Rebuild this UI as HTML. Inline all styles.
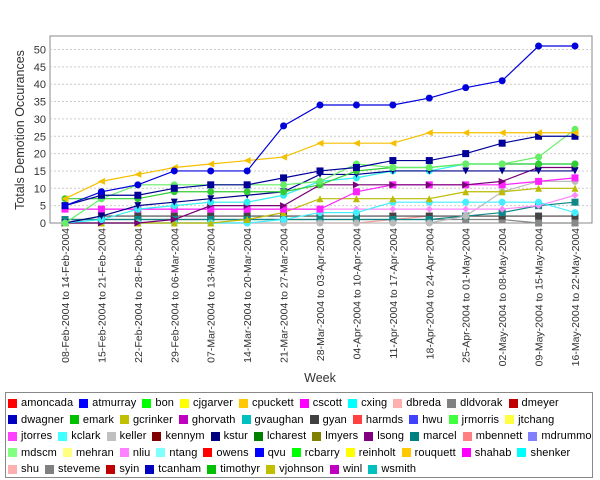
<!DOCTYPE html>
<html><head><meta charset="utf-8"><style>
body{margin:0;background:#fff;font-family:"Liberation Sans",sans-serif;}
#wrap{position:relative;width:600px;height:480px;overflow:hidden;}
#legend{position:absolute;left:5px;top:392px;width:588px;height:86px;border:1px solid #888;box-sizing:border-box;padding:2px 0 0 2px;font-size:11px;overflow:hidden;}
.row{white-space:nowrap;height:16.5px;display:flex;align-items:center;}
.li{display:inline-flex;align-items:center;margin-right:6px;letter-spacing:0.1px;}
.sw{width:9px;height:9px;margin-right:4px;display:inline-block;}
</style></head><body>
<div id="wrap">
<svg id="chart" width="600" height="390" style="position:absolute;left:0;top:0"></svg>
<div id="legend"></div>
</div>
<script>
const categories=["08-Feb-2004 to 14-Feb-2004","15-Feb-2004 to 21-Feb-2004","22-Feb-2004 to 28-Feb-2004","29-Feb-2004 to 06-Mar-2004","07-Mar-2004 to 13-Mar-2004","14-Mar-2004 to 20-Mar-2004","21-Mar-2004 to 27-Mar-2004","28-Mar-2004 to 03-Apr-2004","04-Apr-2004 to 10-Apr-2004","11-Apr-2004 to 17-Apr-2004","18-Apr-2004 to 24-Apr-2004","25-Apr-2004 to 01-May-2004","02-May-2004 to 08-May-2004","09-May-2004 to 15-May-2004","16-May-2004 to 22-May-2004"];
const yTicks=[0,5,10,15,20,25,30,35,40,45,50];
const seriesNames=["tcanham","cpuckett","dwagner","jrmorris","emark","kstur","shenker","lsong","shahab","vjohnson","kclark","nliu","keller","marcel","gyan","steveme","mbennett"];
const seriesColors=["#0000dd","#f5c000","#000099","#66ee66","#33cc33","#000088","#33eeee","#770077","#ff22ff","#bbbb00","#44eeff","#ff88ff","#bbbbbb","#118888","#444444","#888888","#ff9999"];
const seriesShapes=["circle","tri-left","square","circle","circle","tri-down","circle","tri-right","square","tri-up","circle","diamond","circle","square","square","square","diamond"];
const v0=[5,9,11,15,15,15,28,34,34,34,36,39,41,51,51];
const v1=[7,12,14,16,17,18,19,23,23,23,26,26,26,26,26];
const v2=[5,8,8,10,11,11,13,15,16,18,18,20,23,25,25];
const v3=[0,7,11,11,11,11,11,12,17,16,16,17,17,19,27];
const v4=[7,7,7,9,9,9,9,11,15,16,16,17,17,17,17];
const v5=[0,2,5,6,7,8,9,14,14,15,15,15,15,15,15];
const v6=[0,1,4,5,6,6,8,12,13,15,15,17,17,17,17];
const v7=[0,0,0,1,5,5,5,11,11,11,11,11,12,16,16];
const v8=[4,4,4,4,4,4,4,4,9,11,11,11,11,12,13];
const v9=[0,0,0,0,0,1,3,7,7,7,7,9,9,10,10];
const v10=[0,0,0,0,0,0,1,3,3,6,6,6,6,6,3];
const v11=[4,4,4,4,4,4,4,4,4,4,4,4,4,5,8];
const v12=[0,0,0,0,0,0,0,0,0,0,0,2,9,12,12];
const v13=[1,1,1,1,1,1,1,1,1,1,1,2,3,5,6];
const v14=[0,2,2,2,2,2,2,2,2,2,2,2,2,2,2];
const v15=[1,1,1,1,1,1,1,1,1,1,1,1,1,0,0];
const v16=[0,0,0,0,0,0,0,0,0,1,2,2,2,2,2];
const seriesValues=[v0,v1,v2,v3,v4,v5,v6,v7,v8,v9,v10,v11,v12,v13,v14,v15,v16];
const legendNames=["amoncada","atmurray","bon","cjgarver","cpuckett","cscott","cxing","dbreda","dldvorak","dmeyer","dwagner","emark","gcrinker","ghorvath","gvaughan","gyan","harmds","hwu","jrmorris","jtchang","jtorres","kclark","keller","kennym","kstur","lcharest","lmyers","lsong","marcel","mbennett","mdrummon","mdscm","mehran","nliu","ntang","owens","qvu","rcbarry","reinholt","rouquett","shahab","shenker","shu","steveme","syin","tcanham","timothyr","vjohnson","winl","wsmith"];
const legendColors=["#ff0000","#0000ff","#00ff00","#ffff00","#ffc800","#ff00ff","#00ffff","#ffafaf","#808080","#c00000","#0000c0","#00c000","#c0c000","#c000c0","#00c0c0","#404040","#ff4040","#4040ff","#40ff40","#ffff40","#ff40ff","#40ffff","#c0c0c0","#800000","#000080","#008000","#808000","#800080","#008080","#ff8080","#8080ff","#80ff80","#ffff80","#ff80ff","#80ffff","#ff0000","#0000ff","#00ff00","#ffff00","#ffc800","#ff00ff","#00ffff","#ffafaf","#808080","#c00000","#0000c0","#00c000","#c0c000","#c000c0","#00c0c0"];
const legendRowSizes=[10,10,11,11,8];

const NS="http://www.w3.org/2000/svg";
const svg=document.getElementById('chart');
const L=50,R=592,T=36,B=223,X0=65,X1=575,YMAX=50,Y50=49.5;
function xs(i){return X0+(X1-X0)*i/(categories.length-1);}
function ys(v){return B-(B-Y50)*v/YMAX;}
function mk(tag,attrs){const e=document.createElementNS(NS,tag);for(const k in attrs)e.setAttribute(k,attrs[k]);svg.appendChild(e);return e;}
let bg=mk('rect',{x:L,y:T,width:R-L,height:B-T,fill:'#fff',stroke:'#888'});


yTicks.forEach(t=>{
  const y=ys(t);
  if(t>0){let g=mk('line',{x1:L,x2:R,y1:y,y2:y,stroke:'#ccc','stroke-dasharray':'2,2'});
  
  }
  let tx=mk('text',{x:L-4,y:y+4,'text-anchor':'end','font-size':'11',fill:'#333'});tx.textContent=t;
  
  
});
categories.forEach((c,i)=>{
  const x=xs(i);
  let tx=mk('text',{x:0,y:0,'text-anchor':'end','font-size':'10.5',fill:'#333',transform:`translate(${x+4},${B+5}) rotate(-90)`});tx.textContent=c;
  
  
});
let yt=mk('text',{x:0,y:0,'text-anchor':'middle','font-size':'12.5',fill:'#333',transform:'translate(24,130) rotate(-90)'});yt.textContent='Totals Demotion Occurances';


let xt=mk('text',{x:320,y:382,'text-anchor':'middle','font-size':'12.5',fill:'#333'});xt.textContent='Week';


function marker(shape,x,y,c){
  const s=3.5;let e;
  if(shape==='circle')e=mk('circle',{cx:x,cy:y,r:s,fill:c});
  else if(shape==='square')e=mk('rect',{x:x-s,y:y-s,width:2*s,height:2*s,fill:c});
  else{let p;
    if(shape==='tri-left')p=[[x-s,y],[x+s,y-s],[x+s,y+s]];
    else if(shape==='tri-right')p=[[x+s,y],[x-s,y-s],[x-s,y+s]];
    else if(shape==='tri-down')p=[[x,y+s],[x-s,y-s],[x+s,y-s]];
    else if(shape==='tri-up')p=[[x,y-s],[x-s,y+s],[x+s,y+s]];
    else p=[[x,y-s],[x+s,y],[x,y+s],[x-s,y]];
    e=mk('polygon',{points:p.map(q=>q.join(',')).join(' '),fill:c});}
  return e;
}
for(let k=seriesValues.length-1;k>=0;k--){
  const vals=seriesValues[k],c=seriesColors[k];
  let pl=mk('polyline',{points:vals.map((v,i)=>xs(i)+','+ys(v)).join(' '),fill:'none',stroke:c,'stroke-width':1.2});
  
  
  vals.forEach((v,i)=>{const m=marker(seriesShapes[k],xs(i),ys(v),c);
    
    });
}
const lg=document.getElementById('legend');
let idx=0;
legendRowSizes.forEach(n=>{
  const row=document.createElement('div');row.className='row';
  
  
  for(let j=0;j<n;j++,idx++){
    const name=legendNames[idx];
    const d=document.createElement('span');d.className='li';
    
    
    d.innerHTML=`<span class="sw" style="background:${legendColors[idx]}"></span>${name}`;
    row.appendChild(d);
  }
  lg.appendChild(row);
});
</script>
</body></html>
